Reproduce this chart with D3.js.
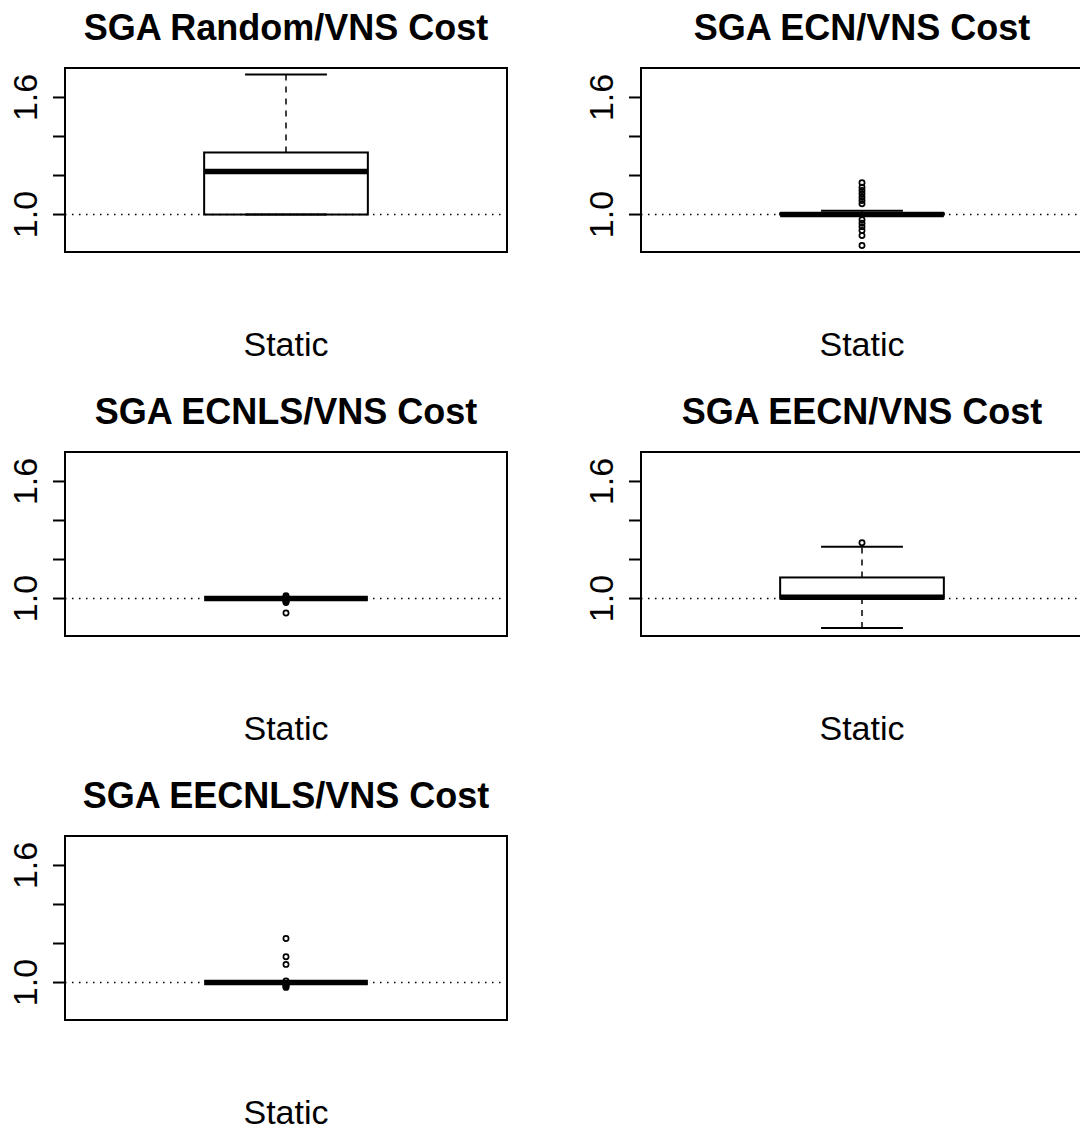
<!DOCTYPE html>
<head>
  <meta charset="utf-8">
  <script src="https://d3js.org/d3.v7.min.js"></script>
  <style>
    body { margin: 0; background: #fff; }
    svg { width: 1080px; height: 1130px; display: block; }
    text { font-family: "Liberation Sans", Arial, Helvetica, sans-serif; fill: #000; }
  </style>
</head>

<body>
  <svg></svg>
  <script>
    // one box per panel
    var titles = [
      'SGA Random/VNS Cost',
      'SGA ECN/VNS Cost',
      'SGA ECNLS/VNS Cost',
      'SGA EECN/VNS Cost',
      'SGA EECNLS/VNS Cost'
    ];
    var groupLabel = 'Static';
    var lowerWhisker = [1.0, 1.0, 1.0, 0.849, 1.0];
    var q1 = [1.0, 1.0, 1.0, 1.0, 1.0];
    var median = [1.221, 1.0, 1.0, 1.006, 1.0];
    var q3 = [1.318, 1.006, 1.0, 1.108, 1.0];
    var upperWhisker = [1.718, 1.02, 1.0, 1.266, 1.0];
    var outliers = [
      [],
      [1.163, 1.14, 1.123, 1.107, 1.089, 1.072, 1.055,
       0.973, 0.955, 0.938, 0.918, 0.892, 0.841],
      [1.015, 1.01, 1.005, 0.995, 0.99, 0.985, 0.98, 0.926],
      [1.286],
      [1.226, 1.132, 1.093, 1.008, 0.995, 0.99, 0.985, 0.98, 0.975]
    ];
    var yTicks = [1.0, 1.2, 1.4, 1.6];
    var yTickLabels = ['1.0', '', '', '1.6'];

    var plotW = 442, plotH = 184;
    var colStep = 576, rowStep = 384;
    var left0 = 65, top0 = 68;

    var x = d3.scaleLinear().domain([0.46, 1.54]).range([0, plotW]);
    var y = d3.scaleLinear().domain([0.808, 1.751]).range([plotH, 0]);

    var svg = d3.select('svg');

    var panels = svg.selectAll('g.panel')
      .data(titles).enter().append('g')
      .classed('panel', true)
      .attr('transform', function(d, i) {
        var px = left0 + (i % 2) * colStep;
        var py = top0 + Math.floor(i / 2) * rowStep;
        return 'translate(' + [px, py] + ')';
      });

    panels.each(function(title, i) {
      var g = d3.select(this);

      // title and group label
      g.append('text')
        .attr('x', x(1)).attr('y', -28)
        .attr('text-anchor', 'middle')
        .style('font-size', '36px').style('font-weight', 'bold')
        .text(title);
      g.append('text')
        .attr('x', x(1)).attr('y', 288)
        .attr('text-anchor', 'middle')
        .style('font-size', '34px')
        .text(groupLabel);

      // reference line at 1.0
      g.append('line')
        .attr('x1', 0).attr('x2', plotW)
        .attr('y1', y(1)).attr('y2', y(1))
        .attr('stroke', '#000').attr('stroke-width', 1.5)
        .attr('stroke-dasharray', '1.5,5.5');

      // whiskers
      var whisk = [[q3[i], upperWhisker[i]], [lowerWhisker[i], q1[i]]];
      whisk.forEach(function(w) {
        if (w[1] - w[0] > 0) {
          g.append('line')
            .attr('x1', x(1)).attr('x2', x(1))
            .attr('y1', y(w[0])).attr('y2', y(w[1]))
            .attr('stroke', '#000').attr('stroke-width', 1.5)
            .attr('stroke-dasharray', '6,6');
        }
      });
      [upperWhisker[i], lowerWhisker[i]].forEach(function(v) {
        g.append('line')
          .attr('x1', x(0.9)).attr('x2', x(1.1))
          .attr('y1', y(v)).attr('y2', y(v))
          .attr('stroke', '#000').attr('stroke-width', 2);
      });

      // box
      g.append('rect')
        .attr('x', x(0.8)).attr('width', x(1.2) - x(0.8))
        .attr('y', y(q3[i])).attr('height', y(q1[i]) - y(q3[i]))
        .attr('fill', 'none').attr('stroke', '#000').attr('stroke-width', 2);
      g.append('line')
        .attr('x1', x(0.8)).attr('x2', x(1.2))
        .attr('y1', y(median[i])).attr('y2', y(median[i]))
        .attr('stroke', '#000').attr('stroke-width', 5.5);

      // outliers
      g.selectAll('circle')
        .data(outliers[i]).enter().append('circle')
        .attr('cx', x(1)).attr('cy', function(d) { return y(d); })
        .attr('r', 2.6)
        .attr('fill', 'none').attr('stroke', '#000').attr('stroke-width', 1.7);

      // y axis
      var axis = g.append('g');
      axis.selectAll('line')
        .data(yTicks).enter().append('line')
        .attr('x1', -12).attr('x2', 0)
        .attr('y1', function(d) { return y(d); })
        .attr('y2', function(d) { return y(d); })
        .attr('stroke', '#000').attr('stroke-width', 2);
      axis.selectAll('text')
        .data(yTicks).enter().append('text')
        .attr('transform', function(d) {
          return 'translate(' + [-28, y(d)] + ')rotate(-90)';
        })
        .attr('text-anchor', 'middle')
        .style('font-size', '34px')
        .text(function(d, k) { return yTickLabels[k]; });

      // frame
      g.append('rect')
        .attr('x', 0).attr('y', 0)
        .attr('width', plotW).attr('height', plotH)
        .attr('fill', 'none').attr('stroke', '#000').attr('stroke-width', 2);
    });
  </script>
</body>
